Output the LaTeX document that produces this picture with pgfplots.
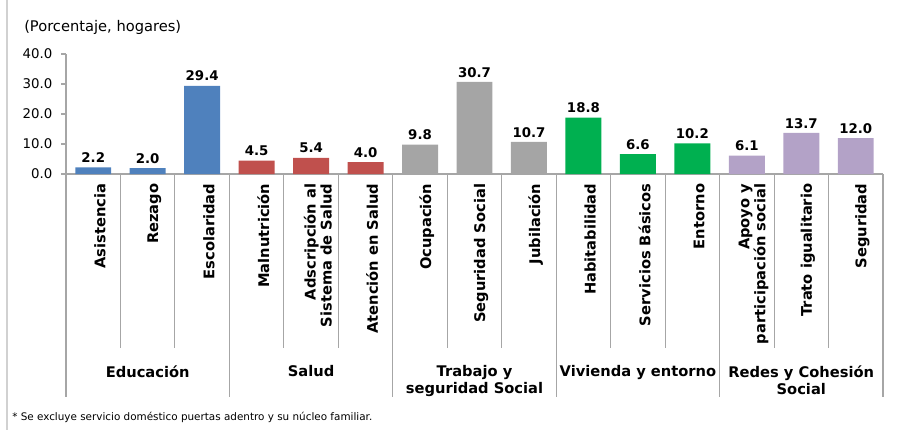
\documentclass[border=0pt]{standalone}
\usepackage{fontspec}
\setmainfont{DejaVu Sans}
\usepackage{pgfplots}
\pgfplotsset{compat=1.18}
\definecolor{cblue}{HTML}{4F81BD}
\definecolor{cred}{HTML}{C0504D}
\definecolor{cgray}{HTML}{A5A5A5}
\definecolor{cgreen}{HTML}{00B050}
\definecolor{cpurple}{HTML}{B3A2C7}
\definecolor{sepcol}{HTML}{A6A6A6}
\begin{document}
\begin{tikzpicture}
\useasboundingbox (-49.5pt,-192pt) rectangle (642pt,130.5pt);
\draw[draw=black!18, line width=0.8pt] (-44.25pt,130.5pt) -- (-44.25pt,-192pt);
\begin{axis}[
  at={(0,0)}, anchor=south west,
  scale only axis, width=612.75pt, height=90pt,
  xmin=-0.5, xmax=14.5, ymin=0, ymax=40,
  clip=false,
  axis x line*=bottom, axis y line*=left,
  axis line style={draw=sepcol, line width=0.8pt},
  ytick={0,10,20,30,40},
  ytick style={draw=sepcol, line width=0.8pt},
  tick align=outside, major tick length=3.75pt,
  /pgf/number format/assume math mode=true,
  yticklabel style={font=\fontsize{10}{12}\selectfont, xshift=-3pt, /pgf/number format/.cd, fixed, fixed zerofill, precision=1},
  xtick={0,...,14},
  xtick style={draw=none},
  xticklabels={Asistencia, Rezago, Escolaridad, Malnutrición, {Adscripción al\\Sistema de Salud}, Atención en Salud, Ocupación, Seguridad Social, Jubilación, Habitabilidad, Servicios Básicos, Entorno, {Apoyo y\\participación social}, Trato igualitario, Seguridad},
  xticklabel style={rotate=90, anchor=east, align=right, font=\bfseries\fontsize{11}{12}\selectfont, yshift=-5pt},
  ybar, bar width=0.66,
  nodes near coords,
  nodes near coords style={font=\bfseries\fontsize{10}{12}\selectfont, color=black, /pgf/number format/.cd, fixed, fixed zerofill, precision=1},
]
\addplot[bar shift=0pt, fill=cblue, draw=none] coordinates {(0,2.2) (1,2.0) (2,29.4)};
\addplot[bar shift=0pt, fill=cred, draw=none] coordinates {(3,4.5) (4,5.4) (5,4.0)};
\addplot[bar shift=0pt, fill=cgray, draw=none] coordinates {(6,9.8) (7,30.7) (8,10.7)};
\addplot[bar shift=0pt, fill=cgreen, draw=none] coordinates {(9,18.8) (10,6.6) (11,10.2)};
\addplot[bar shift=0pt, fill=cpurple, draw=none] coordinates {(12,6.1) (13,13.7) (14,12.0)};
\pgfplotsinvokeforeach{0.5,1.5,3.5,4.5,6.5,7.5,9.5,10.5,12.5,13.5}{\draw[sepcol, line width=0.8pt] (axis cs:#1,0) -- ++(0pt,-130.5pt);}
\pgfplotsinvokeforeach{-0.5,2.5,5.5,8.5,11.5,14.5}{\draw[sepcol, line width=0.8pt] (axis cs:#1,0) -- ++(0pt,-167pt);}
\begin{scope}[every node/.style={font=\bfseries\fontsize{11}{12.75}\selectfont, align=center, anchor=north}]
\node[yshift=-140pt] at (axis cs:1,0) {Educación};
\node[yshift=-140pt] at (axis cs:4,0) {Salud};
\node[yshift=-140pt] at (axis cs:7,0) {Trabajo y\\seguridad Social};
\node[yshift=-140pt] at (axis cs:10,0) {Vivienda y entorno};
\node[yshift=-140pt] at (axis cs:13,0) {Redes y Cohesión\\Social};
\end{scope}
\end{axis}
\node[anchor=west, font=\fontsize{11}{12}\selectfont, inner sep=0pt] at (-31.5pt,110.25pt) {(Porcentaje, hogares)};
\node[anchor=west, font=\fontsize{7.8}{9}\selectfont, inner sep=0pt] at (-40.5pt,-182.25pt) {* Se excluye servicio doméstico puertas adentro y su núcleo familiar.};
\end{tikzpicture}
\end{document}
